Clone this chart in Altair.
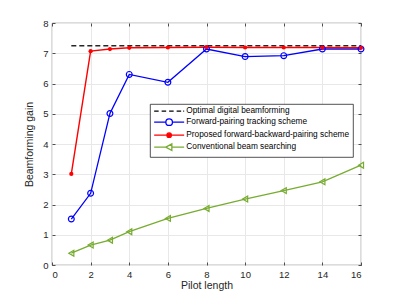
import altair as alt
import pandas as pd

pilot = [1, 2, 3, 4, 6, 8, 10, 12, 14, 16]
optimal = [7.25, 7.25, 7.25, 7.25, 7.25, 7.25, 7.25, 7.25, 7.25, 7.25]
forward = [1.52, 2.37, 5.01, 6.30, 6.04, 7.14, 6.89, 6.92, 7.14, 7.14]
proposed = [3.01, 7.07, 7.14, 7.18, 7.19, 7.20, 7.19, 7.19, 7.19, 7.18]
conventional = [0.39, 0.66, 0.82, 1.10, 1.54, 1.87, 2.18, 2.46, 2.75, 3.30]

series_names = [
    "Optimal digital beamforming",
    "Forward-pairing tracking scheme",
    "Proposed forward-backward-pairing scheme",
    "Conventional beam searching",
]
series_values = [optimal, forward, proposed, conventional]
series_colors = ["#000000", "#0000ff", "#ff0000", "#77ac30"]

x_ticks = [0, 2, 4, 6, 8, 10, 12, 14, 16]
y_ticks = [0, 1, 2, 3, 4, 5, 6, 7, 8]

rows = []
for name, vals in zip(series_names, series_values):
    for xv, yv in zip(pilot, vals):
        rows.append({"pilot": xv, "gain": yv, "series": name})
df = pd.DataFrame(rows)

# legend symbols: line sample + marker
legend_shapes = [
    "M-5,0L-3.5,0M-2.5,0L-1,0M0,0L1.5,0M2.5,0L4,0M4.7,0L5,0",
    "M-5,0L-1.1,0M1.1,0L5,0M1.1,0A1.1,1.1,0,1,1,-1.1,0A1.1,1.1,0,1,1,1.1,0",
    "M-5,0L5,0M0.75,0A0.75,0.75,0,1,1,-0.75,0A0.75,0.75,0,1,1,0.75,0",
    "M-5,0L-1.1,0M0.9,0L5,0M-1.1,0L0.9,-1.1L0.9,1.1Z",
]
legend_fills = ["transparent", "transparent", "#ff0000", "transparent"]

xs = alt.Scale(domain=[0, 16], nice=False, zero=False)
ys = alt.Scale(domain=[0, 8], nice=False, zero=False)

font = "Liberation Sans"
axis_common = dict(
    grid=True, gridColor="#e8e8e8", gridWidth=1, domain=False,
    tickSize=3, offset=-3, tickColor="#262626", tickWidth=0.8,
    labelFont=font, labelFontSize=9.5, labelColor="#262626",
    titleFont=font, titleFontSize=10.5, titleColor="#262626",
    titleFontWeight="normal",
)

base = alt.Chart(df)

def sel(name):
    return base.transform_filter(alt.datum.series == name)

x_enc = alt.X("pilot:Q", scale=xs, axis=alt.Axis(values=x_ticks, title="Pilot length", labelPadding=4, titlePadding=2, **axis_common))
y_enc = alt.Y("gain:Q", scale=ys, axis=alt.Axis(values=y_ticks, title="Beamforming gain", labelPadding=4, titlePadding=8, **axis_common))
xn = alt.X("pilot:Q", axis=None)
yn = alt.Y("gain:Q", axis=None)

opt_line = sel(series_names[0]).mark_line(strokeDash=[5, 3], strokeWidth=1.5, color="#262626").encode(x=x_enc, y=y_enc)
fwd_line = sel(series_names[1]).mark_line(strokeWidth=1.3, color="#0000ff").encode(x=xn, y=yn)
fwd_pts = sel(series_names[1]).mark_point(shape="circle", size=34, filled=False, strokeWidth=1.2, color="#0000ff", opacity=1).encode(x=xn, y=yn)
prop_line = sel(series_names[2]).mark_line(strokeWidth=1.4, color="#ff0000").encode(x=xn, y=yn)
prop_pts = sel(series_names[2]).mark_point(shape="circle", size=18, filled=True, color="#ff0000", opacity=1).encode(x=xn, y=yn)
conv_line = sel(series_names[3]).mark_line(strokeWidth=1.3, color="#77ac30").encode(x=xn, y=yn)
conv_pts = sel(series_names[3]).mark_point(shape="triangle-left", size=34, filled=False, strokeWidth=1.2, color="#77ac30", opacity=1).encode(x=xn, y=yn)

frame_axis = dict(domain=False, grid=False, labels=False, title="", tickSize=3, offset=-3, tickColor="#262626", tickWidth=0.8)
legend_layer = base.transform_filter("false").mark_point(filled=False, opacity=1).encode(
    x=alt.X("pilot:Q", axis=alt.Axis(orient="top", values=x_ticks, **frame_axis)),
    y=alt.Y("gain:Q", axis=alt.Axis(orient="right", values=y_ticks, **frame_axis)),
    stroke=alt.Stroke("series:N", scale=alt.Scale(domain=series_names, range=series_colors), legend=alt.Legend(title=None)),
    fill=alt.Fill("series:N", scale=alt.Scale(domain=series_names, range=legend_fills), legend=alt.Legend(title=None)),
    shape=alt.Shape("series:N", scale=alt.Scale(domain=series_names, range=legend_shapes), legend=alt.Legend(title=None)),
)

chart = alt.layer(
    opt_line, fwd_line, prop_line, conv_line, fwd_pts, prop_pts, conv_pts, legend_layer
).resolve_axis(x="independent", y="independent").properties(
    width=309, height=242,
    autosize=alt.AutoSizeParams(type="none"),
    padding={"left": 44, "top": 15, "right": 30, "bottom": 26},
).configure_view(stroke="#262626", strokeWidth=0.8).configure_legend(
    orient="none", legendX=98, legendY=81,
    fillColor="#ffffff", strokeColor="#262626", strokeWidth=0.8,
    padding=3, cornerRadius=0, rowPadding=1, labelLimit=0,
    labelFont=font, labelFontSize=8.3, labelColor="#000000",
    symbolSize=36, symbolStrokeWidth=1.3, symbolOffset=12, labelOffset=13,
)

chart.save("out.html", embed_options={"renderer": "svg", "actions": False})
